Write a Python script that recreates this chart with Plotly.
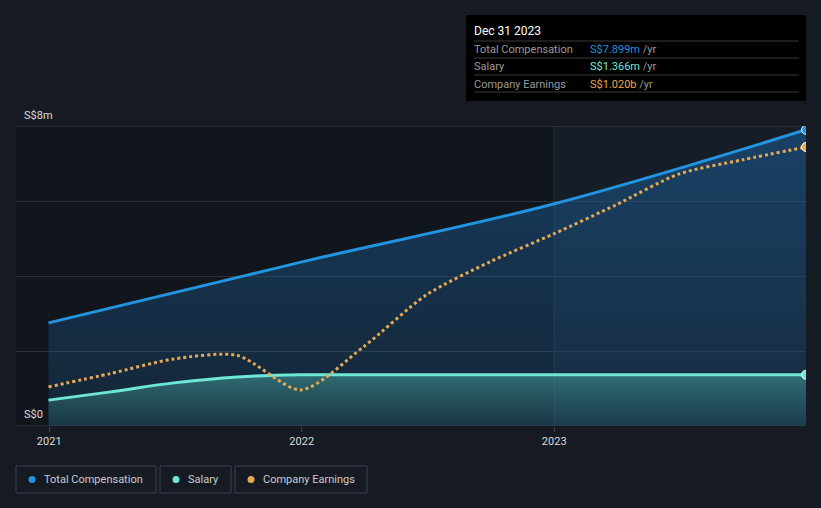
import plotly.graph_objects as go

# quarter-end dates
dates = ["2020-12-31", "2021-03-31", "2021-06-30", "2021-09-30", "2021-12-31",
         "2022-03-31", "2022-06-30", "2022-09-30", "2022-12-31",
         "2023-03-31", "2023-06-30", "2023-09-30", "2023-12-31"]

# total compensation, S$ millions (annual points)
comp_dates = ["2020-12-31", "2021-12-31", "2022-12-31", "2023-12-31"]
total_comp = [2.75, 4.37, 5.92, 7.899]

# salary, S$ millions
salary = [0.69, 0.91, 1.15, 1.31, 1.366, 1.366, 1.366, 1.366, 1.366,
          1.366, 1.366, 1.366, 1.366]

# company earnings, S$ billions
earnings = [0.143, 0.192, 0.245, 0.258, 0.132, 0.289, 0.479, 0.600, 0.702,
            0.808, 0.921, 0.973, 1.020]

BG = "#151a23"
BLUE = "#2394df"
TEAL = "#6ee7d5"
ORANGE = "#e8a953"
FONT = "Roboto"

L, R, T, B = 16, 806, 126, 426  # plot area in pixels


def px(x):
    return (x - L) / (R - L)


def py(y):
    return (B - y) / (B - T)


fig = go.Figure()

fig.add_trace(go.Scatter(
    x=comp_dates, y=total_comp, mode="lines", line=dict(color=BLUE, width=3, shape="spline"),
    fill="tozeroy",
    fillgradient=dict(type="vertical", colorscale=[[0, "rgba(30,90,140,0.25)"], [1, "rgba(30,110,180,0.45)"]]),
    hoverinfo="skip"))
fig.add_trace(go.Scatter(
    x=dates, y=salary, mode="lines", line=dict(color=TEAL, width=3, shape="spline"),
    fill="tozeroy",
    fillgradient=dict(type="vertical", colorscale=[[0, "rgba(60,150,150,0.15)"], [1, "rgba(80,190,180,0.45)"]]),
    hoverinfo="skip"))
fig.add_trace(go.Scatter(
    x=dates, y=earnings, mode="lines", yaxis="y2",
    line=dict(color=ORANGE, width=3, dash="dot", shape="spline", smoothing=0.75), hoverinfo="skip"))

# end markers
fig.add_trace(go.Scatter(x=comp_dates[-1:], y=total_comp[-1:], mode="markers",
                         marker=dict(color=BLUE, size=9, line=dict(color="white", width=1)),
                         hoverinfo="skip"))
fig.add_trace(go.Scatter(x=dates[-1:], y=salary[-1:], mode="markers",
                         marker=dict(color=TEAL, size=9, line=dict(color="white", width=1)),
                         hoverinfo="skip"))
fig.add_trace(go.Scatter(x=dates[-1:], y=earnings[-1:], mode="markers", yaxis="y2",
                         marker=dict(color=ORANGE, size=9, line=dict(color="white", width=1)),
                         hoverinfo="skip"))

shapes = [
    # highlighted last year
    dict(type="rect", xref="x", yref="paper", x0="2023-01-01", x1="2023-12-31", y0=0, y1=1,
         fillcolor="rgba(30,45,60,0.35)", line=dict(width=0), layer="below"),
    dict(type="line", xref="x", yref="paper", x0="2023-01-01", x1="2023-01-01", y0=0, y1=1,
         line=dict(color="rgba(60,75,90,0.45)", width=1), layer="below"),
    # top and bottom grid lines
    dict(type="line", xref="paper", yref="y", x0=0, x1=1, y0=8, y1=8,
         line=dict(color="#3a404a", width=1), layer="below"),
    dict(type="line", xref="paper", yref="y", x0=0, x1=1, y0=0, y1=0,
         line=dict(color="#3a404a", width=1)),
    # tooltip box
    dict(type="rect", xref="paper", yref="paper", x0=px(466), x1=px(806), y0=py(15), y1=py(101),
         fillcolor="#000000", line=dict(width=0)),
]
for ly in [41, 58, 75, 92]:
    shapes.append(dict(type="line", xref="paper", yref="paper", x0=px(474), x1=px(799),
                       y0=py(ly), y1=py(ly), line=dict(color="#3a3a3a", width=1)))

annotations = [
    dict(xref="paper", yref="paper", x=px(472), y=py(31), text="Dec 31 2023", showarrow=False,
         xanchor="left", yanchor="middle", font=dict(color="#ffffff", size=12, family=FONT)),
]
rows = [("Total Compensation", "S$7.899m", BLUE, 49),
        ("Salary", "S$1.366m", TEAL, 66),
        ("Company Earnings", "S$1.020b", ORANGE, 84)]
for label, val, col, ry in rows:
    annotations.append(dict(xref="paper", yref="paper", x=px(472), y=py(ry), text=label, showarrow=False,
                            xanchor="left", yanchor="middle", font=dict(color="#9a9a9a", size=11, family=FONT)))
    annotations.append(dict(xref="paper", yref="paper", x=px(588), y=py(ry),
                            text=f"<span style='color:{col}'>{val}</span> /yr", showarrow=False,
                            xanchor="left", yanchor="middle", font=dict(color="#9a9a9a", size=11, family=FONT)))

# y labels
annotations.append(dict(xref="paper", yref="paper", x=px(22), y=py(115), text="S$8m", showarrow=False,
                        xanchor="left", yanchor="middle", font=dict(color="#dddddd", size=11, family=FONT)))
annotations.append(dict(xref="paper", yref="paper", x=px(22), y=py(414), text="S$0", showarrow=False,
                        xanchor="left", yanchor="middle", font=dict(color="#dddddd", size=11, family=FONT)))

# legend boxes
legend_items = [("Total Compensation", BLUE, 16, 156),
                ("Salary", TEAL, 160, 231),
                ("Company Earnings", ORANGE, 235, 367)]
for name, col, x0, x1 in legend_items:
    shapes.append(dict(type="rect", xref="paper", yref="paper", x0=px(x0), x1=px(x1), y0=py(466), y1=py(493),
                       fillcolor="rgba(0,0,0,0)", line=dict(color="#3c424c", width=1)))
    shapes.append(dict(type="circle", xref="paper", yref="paper", x0=px(x0 + 12.5), x1=px(x0 + 19.5),
                       y0=py(476), y1=py(483), fillcolor=col, line=dict(width=0)))
    annotations.append(dict(xref="paper", yref="paper", x=px(x0 + 26), y=py(479.5), text=name, showarrow=False,
                            xanchor="left", yanchor="middle", font=dict(color="#cccccc", size=11, family=FONT)))

fig.update_layout(
    width=821, height=508,
    margin=dict(l=L, r=821 - R, t=T, b=508 - B),
    paper_bgcolor=BG, plot_bgcolor="#11151c",
    showlegend=False,
    font=dict(family=FONT, color="#dddddd"),
    xaxis=dict(type="date", range=["2020-11-14", "2023-12-31"],
               tickvals=["2021-01-01", "2022-01-01", "2023-01-01"], ticktext=["2021", "2022", "2023"],
               showgrid=False, zeroline=False, ticks="outside", ticklen=5, tickcolor="#3c424c",
               tickfont=dict(size=11, color="#dddddd"), showline=False),
    yaxis=dict(range=[0, 8], tickvals=[0, 2, 4, 6, 8], showticklabels=False,
               gridcolor="#2b313b", gridwidth=1, zeroline=False),
    yaxis2=dict(range=[0, 1.0968], overlaying="y", visible=False),
    shapes=shapes, annotations=annotations,
)

fig.write_html("out.html", config={"displayModeBar": False},
               post_script="document.body.style.margin='0';")
